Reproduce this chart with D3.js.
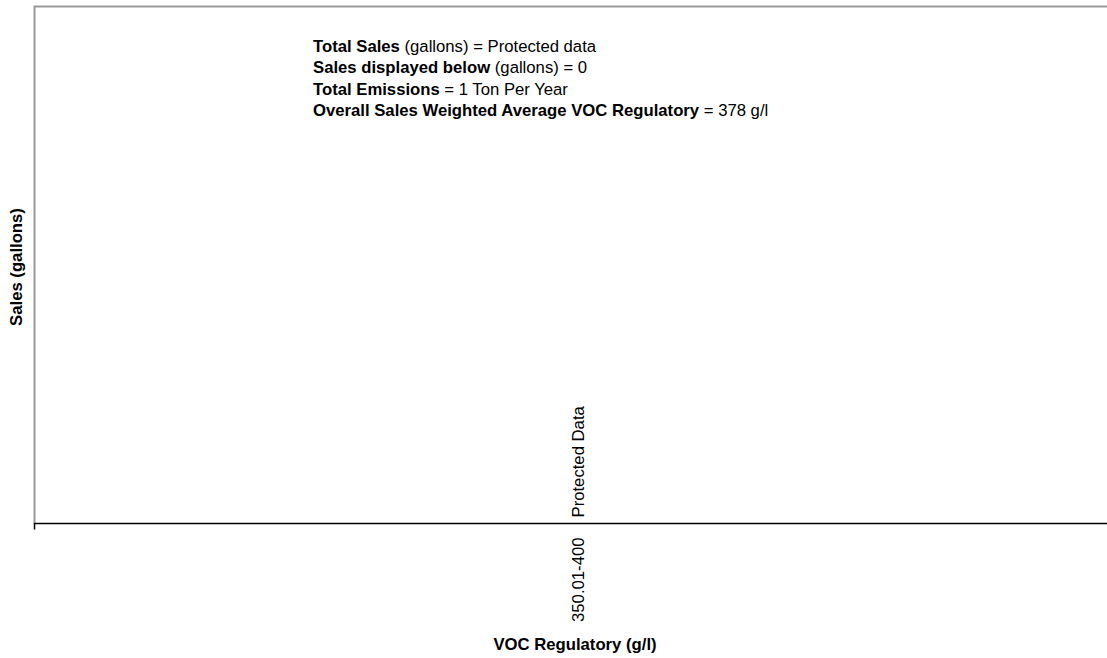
<!DOCTYPE html>
<html>
<head>
<meta charset="utf-8">
<script src="https://cdn.jsdelivr.net/npm/d3@7"></script>
<style>
  html, body { margin: 0; padding: 0; background: #ffffff; }
  svg { display: block; font-family: "Liberation Sans", Arial, sans-serif; }
</style>
</head>
<body>
<svg id="chart" width="1107" height="658"></svg>
<script>
// ---- data ----
const categories = ["350.01-400"];
const salesValues = [0];
const dataLabels = ["Protected Data"];
const xTitle = "VOC Regulatory (g/l)";
const yTitle = "Sales (gallons)";
const summaryBold = ["Total Sales", "Sales displayed below", "Total Emissions", "Overall Sales Weighted Average VOC Regulatory"];
const summaryRest = [" (gallons) = Protected data", " (gallons) = 0", " = 1 Ton Per Year", " = 378 g/l"];

// ---- layout ----
const svg = d3.select("#chart");
const plot = { left: 34.5, top: 6.5, right: 1122, bottom: 523.5 };
const fs = 16.7;

const x = d3.scaleBand().domain(categories).range([plot.left, plot.right]).paddingInner(0.5).paddingOuter(0.25);
const y = d3.scaleLinear().domain([0, 1]).range([plot.bottom, plot.top]);

// plot area border (top + left, gray)
svg.append("path")
  .attr("d", `M${plot.left},${plot.bottom} V${plot.top} H${1107}`)
  .attr("fill", "none").attr("stroke", "#999999").attr("stroke-width", 2);

// bars
svg.selectAll("rect.bar").data(categories).join("rect")
  .attr("class", "bar")
  .attr("x", d => x(d))
  .attr("width", x.bandwidth())
  .attr("y", (d, i) => y(salesValues[i]))
  .attr("height", (d, i) => y(0) - y(salesValues[i]))
  .attr("fill", "#9999ff");

// x axis
const xAxis = d3.axisBottom(x).tickSize(0).tickFormat("");
const gx = svg.append("g").attr("transform", `translate(0,${plot.bottom})`).call(xAxis);
gx.select(".domain").attr("stroke", "#000").attr("stroke-width", 1.5)
  .attr("d", `M${plot.left},6V0H${plot.right}`);

// category labels (rotated)
svg.selectAll("text.cat").data(categories).join("text")
  .attr("class", "cat")
  .attr("transform", d => `translate(${x(d) + x.bandwidth() / 2 + 6},${plot.bottom + 14}) rotate(-90)`)
  .attr("text-anchor", "end")
  .attr("font-size", fs)
  .attr("fill", "#000")
  .text(d => d);

// data labels
svg.selectAll("text.dl").data(categories).join("text")
  .attr("class", "dl")
  .attr("transform", (d, i) => `translate(${x(d) + x.bandwidth() / 2 + 6},${y(salesValues[i]) - 6}) rotate(-90)`)
  .attr("text-anchor", "start")
  .attr("font-size", fs)
  .attr("fill", "#000")
  .text((d, i) => dataLabels[i]);

// axis titles
svg.append("text")
  .attr("x", 575).attr("y", 650)
  .attr("text-anchor", "middle")
  .attr("font-size", fs).attr("font-weight", "bold")
  .text(xTitle);

svg.append("text")
  .attr("transform", `translate(22,267) rotate(-90)`)
  .attr("text-anchor", "middle")
  .attr("font-size", fs).attr("font-weight", "bold")
  .text(yTitle);

// summary block
const summary = svg.append("text").attr("font-size", fs).attr("fill", "#000");
summaryBold.forEach((b, i) => {
  const ty = 52 + i * 21.4;
  summary.append("tspan").attr("x", 313).attr("y", ty).attr("font-weight", "bold").text(b);
  summary.append("tspan").text(summaryRest[i]);
});
</script>
</body>
</html>
